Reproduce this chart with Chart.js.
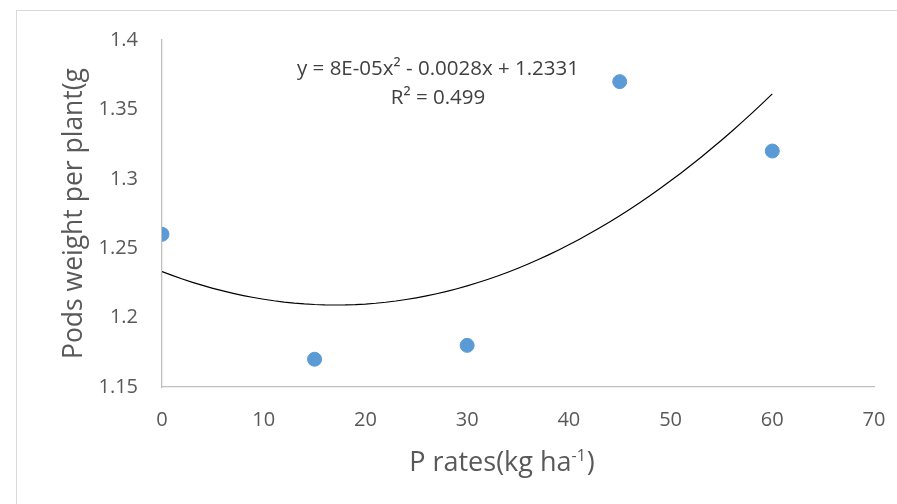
<!DOCTYPE html>
<html>
<head>
<meta charset="utf-8">
<script src="https://cdn.jsdelivr.net/npm/chart.js@4/dist/chart.umd.min.js"></script>
<style>
  html, body { margin: 0; padding: 0; background: #fff; }
  #wrap { position: relative; width: 897px; height: 504px; overflow: hidden; }
  #frame {
    position: absolute; left: 16px; top: 10px; width: 1000px; height: 1000px;
    border-left: 1px solid #d9d9d9; border-top: 1px solid #d9d9d9;
  }
  canvas { position: absolute; left: 0; top: 0; }
</style>
</head>
<body>
<div id="wrap">
  <div id="frame"></div>
  <canvas id="chart" width="897" height="504"></canvas>
</div>
<script>
const pRates = [0, 15, 30, 45, 60];
const podsWeight = [1.26, 1.17, 1.18, 1.37, 1.32];
const xTicks = [0, 10, 20, 30, 40, 50, 60, 70];
const yTicks = [1.15, 1.2, 1.25, 1.3, 1.35, 1.4];
const equationLines = ["y = 8E-05x² - 0.0028x + 1.2331", "R² = 0.499"];
const xTitleParts = ["P rates(kg ha", "-1", ")"];

// least squares quadratic fit, like the spreadsheet trendline
function fitQuadratic(xs, ys) {
  const s = [0, 0, 0, 0, 0];
  const t = [0, 0, 0];
  xs.forEach((x, i) => {
    for (let k = 0; k < 5; k++) s[k] += Math.pow(x, k);
    for (let k = 0; k < 3; k++) t[k] += ys[i] * Math.pow(x, k);
  });
  const m = [
    [s[0], s[1], s[2], t[0]],
    [s[1], s[2], s[3], t[1]],
    [s[2], s[3], s[4], t[2]]
  ];
  for (let i = 0; i < 3; i++) {
    for (let j = i + 1; j < 3; j++) {
      const f = m[j][i] / m[i][i];
      for (let k = i; k < 4; k++) m[j][k] -= f * m[i][k];
    }
  }
  const c = [0, 0, 0];
  for (let i = 2; i >= 0; i--) {
    let v = m[i][3];
    for (let k = i + 1; k < 3; k++) v -= m[i][k] * c[k];
    c[i] = v / m[i][i];
  }
  return c;
}

const coeffs = fitQuadratic(pRates, podsWeight);
const trendPoints = [];
for (let x = pRates[0]; x <= pRates[pRates.length - 1]; x += 1) {
  trendPoints.push({ x: x, y: coeffs[0] + coeffs[1] * x + coeffs[2] * x * x });
}

const FONT = "'Open Sans', 'Liberation Sans', sans-serif";

// trendline label and the x title (with its superscript)
const extraText = {
  id: "extraText",
  afterDatasetsDraw(chart) {
    const ctx = chart.ctx;
    ctx.save();
    ctx.fillStyle = "#404040";
    ctx.font = "20.5px " + FONT;
    ctx.textAlign = "center";
    ctx.textBaseline = "middle";
    ctx.fillText(equationLines[0], 438, 69);
    ctx.fillText(equationLines[1], 438, 98);

    const mainFont = "27px " + FONT;
    const supFont = "16px " + FONT;
    ctx.font = mainFont;
    const w0 = ctx.measureText(xTitleParts[0]).width;
    const w2 = ctx.measureText(xTitleParts[2]).width;
    ctx.font = supFont;
    const w1 = ctx.measureText(xTitleParts[1]).width + 1;
    const startX = 502 - (w0 + w1 + w2) / 2;
    const baseY = 471;
    ctx.textAlign = "left";
    ctx.textBaseline = "alphabetic";
    ctx.fillStyle = "#595959";
    ctx.font = mainFont;
    ctx.fillText(xTitleParts[0], startX, baseY);
    ctx.font = supFont;
    ctx.fillText(xTitleParts[1], startX + w0, baseY - 10);
    ctx.font = mainFont;
    ctx.fillText(xTitleParts[2], startX + w0 + w1, baseY);
    ctx.restore();
  }
};

new Chart(document.getElementById("chart"), {
  type: "scatter",
  data: {
    datasets: [
      {
        label: "Pods weight",
        data: pRates.map((x, i) => ({ x: x, y: podsWeight[i] })),
        backgroundColor: "#5b9bd5",
        borderColor: "#5b9bd5",
        pointRadius: 7,
        pointHoverRadius: 7,
        order: 1
      },
      {
        type: "line",
        label: "Trend",
        data: trendPoints,
        borderColor: "#000000",
        borderWidth: 1.2,
        pointRadius: 0,
        fill: false,
        tension: 0,
        order: 2
      }
    ]
  },
  options: {
    responsive: false,
    animation: false,
    layout: { padding: { left: 0, right: 23, top: 40, bottom: 0 } },
    plugins: {
      legend: { display: false },
      tooltip: { enabled: false }
    },
    scales: {
      x: {
        type: "linear",
        min: 0,
        max: 70,
        afterBuildTicks: (axis) => { axis.ticks = xTicks.map(v => ({ value: v })); },
        afterFit: (axis) => {
          axis.height = 117;
          axis.paddingLeft = 0;
          axis.paddingRight = 0;
        },
        grid: { display: false, drawTicks: false, tickLength: 0 },
        border: { display: true, color: "#bfbfbf", width: 1.3 },
        ticks: { color: "#595959", font: { family: FONT, size: 20 }, padding: 21, maxRotation: 0 },
        title: { display: false }
      },
      y: {
        type: "linear",
        min: 1.15,
        max: 1.4,
        afterBuildTicks: (axis) => { axis.ticks = yTicks.map(v => ({ value: v })); },
        afterFit: (axis) => {
          axis.width = 162;
          axis.paddingTop = 0;
          axis.paddingBottom = 0;
        },
        grid: { display: false, drawTicks: false, tickLength: 0 },
        border: { display: true, color: "#bfbfbf", width: 1.3 },
        ticks: {
          color: "#595959",
          font: { family: FONT, size: 20 },
          padding: 24,
          callback: (v) => String(+v.toFixed(2))
        },
        title: {
          display: true,
          text: "Pods weight per plant(g",
          color: "#595959",
          font: { family: FONT, size: 26.5 },
          padding: { top: 59, bottom: 0 }
        }
      }
    }
  },
  plugins: [extraText]
});
</script>
</body>
</html>
